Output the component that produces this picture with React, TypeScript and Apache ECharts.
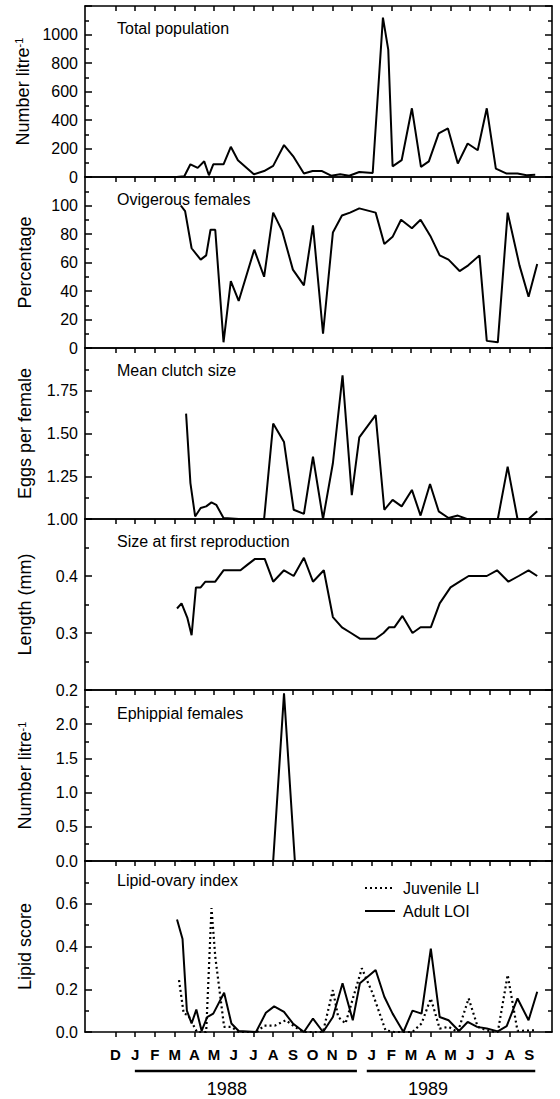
import React, { useEffect, useRef } from "react";
import * as echarts from "echarts";

// ---------- data (x in months; 0 = December 1987 tick) ----------
const MONTHS = ["D", "J", "F", "M", "A", "M", "J", "J", "A", "S", "O", "N", "D", "J", "F", "M", "A", "M", "J", "J", "A", "S"];
const YEARS = ["1988", "1989"];

const popT = [2.0, 2.6, 3.1, 3.49, 3.8, 4.17, 4.5, 4.74, 4.96, 5.48, 5.85, 6.21, 7.02, 7.54, 8.0, 8.55, 9.04, 9.56, 10.0, 10.48, 10.94, 11.4, 11.86, 12.37, 13.05, 13.57, 13.84, 14.06, 14.52, 15.04, 15.5, 15.9, 16.4, 16.87, 17.37, 17.87, 18.38, 18.84, 19.3, 19.85, 20.4, 20.86, 21.3];
const popV = [0, 0, 0, 5, 89, 64, 110, 12, 89, 89, 212, 118, 19, 42, 78, 224, 141, 24, 42, 42, 9, 19, 9, 35, 28, 1118, 894, 75, 118, 482, 71, 110, 306, 341, 94, 235, 188, 482, 59, 24, 24, 12, 16];

const ovT = [3.31, 3.53, 3.86, 4.32, 4.6, 4.82, 5.06, 5.48, 5.85, 6.25, 7.04, 7.54, 8.0, 8.46, 9.0, 9.56, 10.02, 10.53, 11.03, 11.49, 11.9, 12.37, 13.2, 13.64, 14.06, 14.49, 15.04, 15.48, 16.0, 16.45, 16.9, 17.46, 17.9, 18.47, 18.84, 19.4, 19.9, 20.5, 20.96, 21.4];
const ovV = [100, 96, 70, 62, 65, 83, 83, 4, 47, 33, 69, 50, 95, 82, 55, 44, 86, 10, 81, 93, 95, 98, 95, 73, 78, 90, 84, 90, 78, 65, 62, 54, 58, 65, 5, 4, 95, 58, 36, 59];

const clT = [3.58, 3.8, 4.04, 4.32, 4.6, 4.87, 5.11, 5.48, 6.25, 7.04, 7.54, 8.0, 8.55, 9.04, 9.56, 10.02, 10.53, 11.03, 11.52, 11.99, 12.37, 13.2, 13.64, 14.06, 14.52, 15.04, 15.48, 15.96, 16.4, 16.9, 17.37, 17.83, 18.4, 18.9, 19.4, 19.9, 20.4, 20.96, 21.4];
const clV = [1.616, 1.21, 1.015, 1.064, 1.074, 1.097, 1.083, 1.006, 1.0, 1.0, 1.0, 1.558, 1.45, 1.054, 1.03, 1.364, 1.0, 1.326, 1.84, 1.14, 1.477, 1.607, 1.054, 1.112, 1.074, 1.17, 1.02, 1.205, 1.045, 1.006, 1.02, 1.0, 1.0, 1.0, 1.0, 1.306, 1.0, 1.0, 1.045];

const szT = [3.12, 3.35, 3.64, 3.86, 4.08, 4.32, 4.56, 5.06, 5.48, 6.34, 6.7, 7.08, 7.57, 8.0, 8.55, 9.04, 9.56, 10.02, 10.57, 11.03, 11.49, 11.95, 12.4, 13.2, 13.6, 13.88, 14.15, 14.56, 15.07, 15.48, 16.0, 16.45, 17.0, 17.46, 17.92, 18.84, 19.36, 19.94, 20.46, 20.96, 21.4];
const szV = [0.343, 0.352, 0.327, 0.296, 0.38, 0.38, 0.39, 0.39, 0.41, 0.41, 0.42, 0.43, 0.43, 0.39, 0.41, 0.40, 0.432, 0.39, 0.41, 0.328, 0.31, 0.30, 0.29, 0.29, 0.30, 0.31, 0.31, 0.33, 0.30, 0.31, 0.31, 0.352, 0.38, 0.39, 0.40, 0.40, 0.41, 0.39, 0.40, 0.41, 0.40];

const ephT = [3.3, 3.8, 4.3, 4.8, 5.5, 6.2, 7.0, 7.5, 8.0, 8.55, 9.1, 9.6, 10.0, 10.5, 11.0, 11.5, 12.0, 12.4, 13.2, 13.6, 14.1, 14.5, 15.0, 15.5, 16.0, 16.4, 16.9, 17.4, 17.9, 18.4, 18.8, 19.4, 19.9, 20.4, 21.0, 21.4];
const ephV = [0, 0, 0, 0, 0, 0, 0, 0, 0, 2.45, 0, 0, 0, 0, 0, 0, 0, 0, 0, 0, 0, 0, 0, 0, 0, 0, 0, 0, 0, 0, 0, 0, 0, 0, 0, 0];

const adT = [3.12, 3.4, 3.62, 3.86, 4.1, 4.37, 4.65, 4.96, 5.51, 5.88, 6.25, 7.13, 7.63, 8.05, 8.55, 9.0, 9.56, 10.02, 10.53, 11.03, 11.52, 12.04, 12.4, 13.2, 13.64, 14.06, 14.61, 15.07, 15.53, 16.0, 16.45, 16.9, 17.43, 17.87, 18.35, 18.84, 19.4, 19.85, 20.4, 20.96, 21.4];
const adV = [0.526, 0.435, 0.10, 0.04, 0.105, 0.005, 0.07, 0.086, 0.184, 0.04, 0.005, 0.0, 0.09, 0.12, 0.094, 0.04, 0.0, 0.063, 0.0, 0.07, 0.228, 0.055, 0.228, 0.29, 0.165, 0.086, 0.0, 0.1, 0.086, 0.39, 0.07, 0.055, 0.005, 0.047, 0.024, 0.016, 0.003, 0.027, 0.157, 0.055, 0.188];

const juT = [3.22, 3.46, 3.68, 4.13, 4.6, 4.87, 5.06, 5.51, 5.88, 6.25, 7.17, 7.54, 8.09, 8.64, 9.1, 9.56, 10.53, 11.03, 11.3, 11.67, 12.5, 13.05, 13.7, 14.15, 15.07, 15.53, 16.0, 16.45, 16.9, 17.37, 17.92, 18.38, 18.93, 19.4, 19.9, 20.4, 21.3];
const juV = [0.243, 0.086, 0.08, 0.0, 0.0, 0.58, 0.353, 0.024, 0.024, 0.0, 0.0, 0.03, 0.03, 0.055, 0.024, 0.0, 0.0, 0.196, 0.07, 0.04, 0.298, 0.18, 0.008, 0.0, 0.0, 0.04, 0.157, 0.016, 0.024, 0.0, 0.157, 0.024, 0.005, 0.0, 0.267, 0.005, 0.008];

const LEGEND = ["Juvenile LI", "Adult LOI"];

// year bars: [start, end, label position] in month units
const YEAR_SPANS = [
  [0.98, 12.25, 5.65],
  [12.75, 21.3, 15.86],
];

// ---------- layout ----------
const FONT = "'Liberation Sans', Arial, Helvetica, sans-serif";
const X_MIN = -1.55;
const X_MAX = 22.15;
const TOPS = [6, 177, 348, 519, 690, 861];
const PH = 171;
const LEFT = 85;
const RIGHT = 8;
const TICKS = MONTHS.map((_, i) => i);

const zip = (t: number[], v: number[]) => t.map((x, i) => [x, v[i]]);

const panels = [
  { title: "Total population", name: "Number litre{sup|-1}", min: 0, max: 1200, interval: 200, minor: 2, dec: 0 },
  { title: "Ovigerous females", name: "Percentage", min: 0, max: 120, interval: 20, minor: 2, dec: 0 },
  { title: "Mean clutch size", name: "Eggs per female", min: 1, max: 2, interval: 0.25, minor: 2, dec: 2 },
  { title: "Size at first reproduction", name: "Length (mm)", min: 0.2, max: 0.5, interval: 0.1, minor: 2, dec: 1 },
  { title: "Ephippial females", name: "Number litre{sup|-1}", min: 0, max: 2.5, interval: 0.5, minor: 2, dec: 1 },
  { title: "Lipid-ovary index", name: "Lipid score", min: 0, max: 0.8, interval: 0.2, minor: 2, dec: 1 },
];
const TITLE_OFF = [14, 14, 14, 14, 15, 11];

export default function App() {
  const ref = useRef<HTMLDivElement>(null);
  useEffect(() => {
    document.body.style.margin = "0";
    const chart = echarts.init(ref.current!, null, { renderer: "svg" });
    const black = "#000";
    const grid = TOPS.map((t) => ({ left: LEFT, right: RIGHT, top: t, height: PH }));
    const xAxis: any[] = [];
    const yAxis: any[] = [];
    panels.forEach((p, i) => {
      const last = i === panels.length - 1;
      xAxis.push({
        type: "value", gridIndex: i, min: X_MIN, max: X_MAX, position: "bottom",
        axisLine: { show: true, onZero: false, lineStyle: { color: black, width: 1.6 } },
        axisTick: { show: last, inside: false, length: 5, customValues: TICKS, lineStyle: { color: black, width: 1.5 } },
        axisLabel: {
          show: last, customValues: TICKS, formatter: (v: number) => MONTHS[Math.round(v)],
          color: black, fontSize: 15, fontWeight: "bold", fontFamily: FONT, margin: 15,
        },
        splitLine: { show: false },
      });
      xAxis.push({
        type: "value", gridIndex: i, min: X_MIN, max: X_MAX, position: "top",
        axisLine: { show: true, onZero: false, lineStyle: { color: black, width: 1.6 } },
        axisTick: { show: true, inside: true, length: 5, customValues: TICKS, lineStyle: { color: black, width: 1.5 } },
        axisLabel: { show: false },
        splitLine: { show: false },
      });
      const common = {
        type: "value", gridIndex: i, min: p.min, max: p.max, interval: p.interval,
        axisLine: { show: true, onZero: false, lineStyle: { color: black, width: 1.6 } },
        axisTick: { show: true, inside: true, length: 7, lineStyle: { color: black, width: 1.5 } },
        minorTick: { show: true, splitNumber: p.minor, length: 4, lineStyle: { color: black, width: 1.5 } },
        splitLine: { show: false },
      };
      yAxis.push({
        ...common, position: "left",
        axisLabel: {
          showMaxLabel: false, color: black, fontSize: 16, fontFamily: FONT, margin: 7,
          formatter: (v: number) => v.toFixed(p.dec),
        },
        name: p.name, nameLocation: "middle", nameGap: 51,
        nameTextStyle: {
          color: black, fontSize: 18, fontFamily: FONT,
          rich: { sup: { fontSize: 11, verticalAlign: "top", lineHeight: 12, color: black, fontFamily: FONT } },
        },
      });
      yAxis.push({ ...common, position: "right", axisLabel: { show: false } });
    });

    const line = (name: string, i: number, data: number[][], dotted = false) => ({
      name, type: "line", xAxisIndex: 2 * i, yAxisIndex: 2 * i, data,
      symbol: "none", animation: false,
      lineStyle: { color: black, width: dotted ? 2.2 : 2, type: dotted ? [2, 3] : "solid" },
      itemStyle: { color: black },
    });

    const series = [
      line("pop", 0, zip(popT, popV)),
      line("ovig", 1, zip(ovT, ovV)),
      line("clutch", 2, zip(clT, clV)),
      line("size", 3, zip(szT, szV)),
      line("eph", 4, zip(ephT, ephV)),
      line(LEGEND[0], 5, zip(juT, juV), true),
      line(LEGEND[1], 5, zip(adT, adV)),
    ];

    chart.setOption({
      animation: false,
      backgroundColor: "#fff",
      textStyle: { fontFamily: FONT },
      grid,
      xAxis,
      yAxis,
      title: panels.map((p, i) => ({
        text: p.title, left: 117, top: TOPS[i] + TITLE_OFF[i], padding: 0,
        textStyle: { fontSize: 16, fontWeight: "normal", color: black, fontFamily: FONT },
      })),
      series,
    });

    const px = (t: number) => chart.convertToPixel({ xAxisIndex: 10 }, t) as number;
    const base = TOPS[5] + PH;
    const graphic: any[] = [];
    YEAR_SPANS.forEach((s, k) => {
      graphic.push({
        type: "line", shape: { x1: px(s[0]), y1: base + 39, x2: px(s[1]), y2: base + 39 },
        style: { stroke: black, lineWidth: 2.5 },
      });
      graphic.push({
        type: "text", x: px(s[2]), y: base + 57,
        style: { text: YEARS[k], fill: black, fontSize: 18, fontFamily: FONT, align: "center", verticalAlign: "middle" },
      });
    });
    // legend (drawn as graphic so the juvenile sample stays dotted)
    const LX = 365;
    const LY = [TOPS[5] + 27, TOPS[5] + 50];
    LEGEND.forEach((name, k) => {
      graphic.push({
        type: "line", shape: { x1: LX, y1: LY[k], x2: LX + 30, y2: LY[k] },
        style: { stroke: black, lineWidth: k === 0 ? 2.2 : 2, lineDash: k === 0 ? [2, 3] : null },
      });
      graphic.push({
        type: "text", x: LX + 38, y: LY[k],
        style: { text: name, fill: black, fontSize: 16, fontFamily: FONT, align: "left", verticalAlign: "middle" },
      });
    });
    chart.setOption({ graphic });

    return () => chart.dispose();
  }, []);
  return <div ref={ref} style={{ width: 560, height: 1099 }} />;
}
